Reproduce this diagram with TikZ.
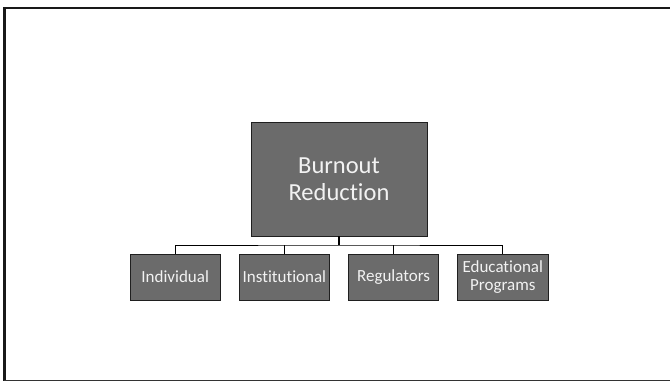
\documentclass[tikz,border=0pt]{standalone}
\usepackage{fontspec}
\setmainfont[Ligatures=NoCommon]{Carlito}
\begin{document}
\begin{tikzpicture}[x=1pt,y=-1pt,
  box/.style={draw=black!88,line width=0.9pt,fill=black!58,text=white!95!black,
    align=center,inner sep=0pt,anchor=center},
  topbox/.style={box,minimum width=176pt,minimum height=114pt,
    font=\fontsize{24.5}{26.7}\selectfont},
  subbox/.style={box,minimum width=90.5pt,minimum height=46pt,
    font=\fontsize{17}{18.5}\selectfont},
  link/.style={draw=black,line width=0.8pt},
  stem/.style={draw=black,line width=2.2pt}]
\useasboundingbox (0,0) rectangle (670,381);
% slide frame (right side runs off the page)
\draw[black!90,line width=2.6pt] (675,8) -- (4.3,8) -- (4.3,380.5);
\draw[black!80,line width=1.4pt] (4.3,380.5) -- (675,380.5);

\node[topbox] (root) at (339,179) {Burnout\\Reduction};
\node[subbox] (ind) at (175.2,277) {Individual};
\node[subbox] (ins) at (284.4,277) {Institutional};
\node[subbox] (reg) at (393.6,277) {Regulators};
\node[subbox] (edu) at (502.8,277) {Educational\\Programs};

\coordinate (bus) at (339,245);
\draw[stem] (root.south) -- (bus);
\draw[link] (ind.north) |- (bus) -| (edu.north);
\draw[link] (ins.north) -- (ins.north |- bus);
\draw[link] (reg.north) -- (reg.north |- bus);
\end{tikzpicture}
\end{document}
